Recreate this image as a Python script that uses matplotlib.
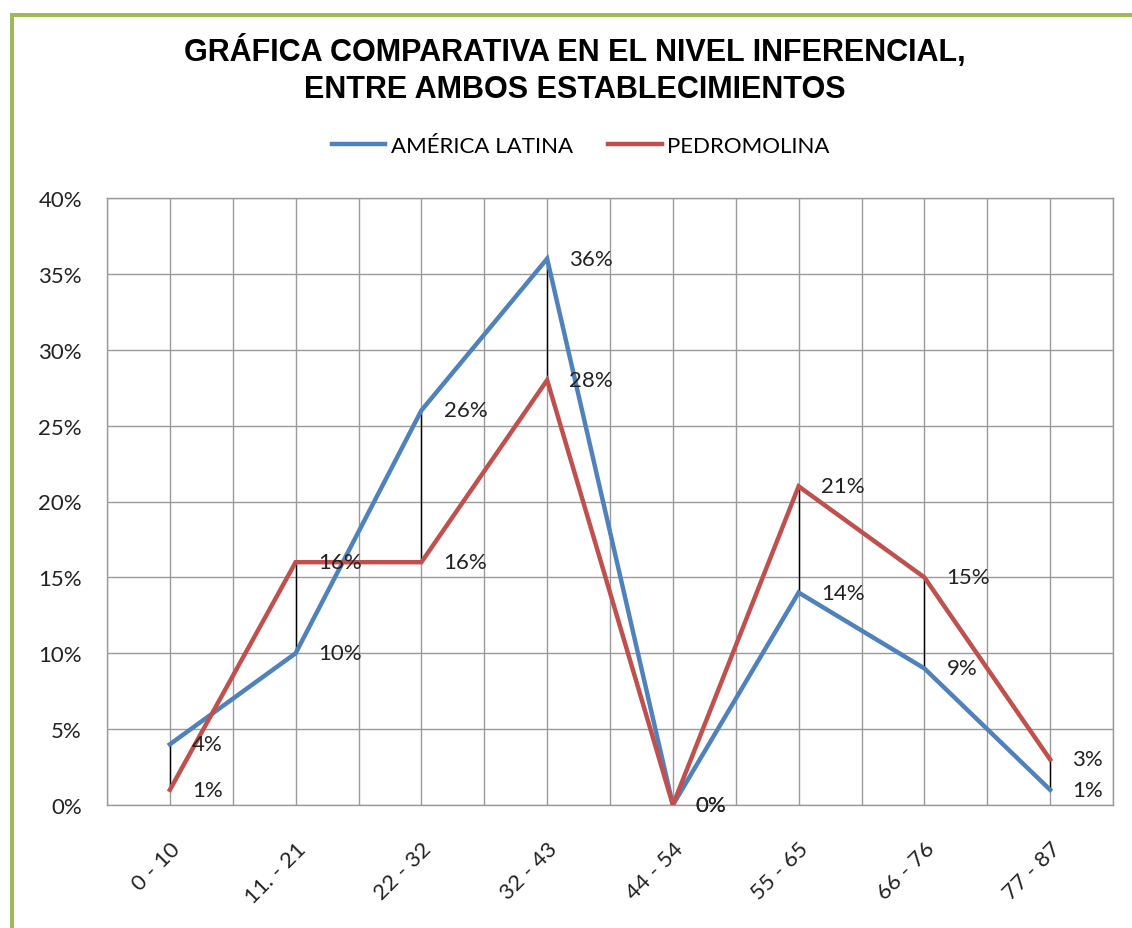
import numpy as np
import matplotlib.pyplot as plt
from matplotlib.patches import Rectangle
from matplotlib.ticker import FuncFormatter, MultipleLocator

plt.rcParams['font.family'] = ['Lato', 'DejaVu Sans']

categories = ['0 - 10', '11. - 21', '22 - 32', '32 - 43', '44 - 54', '55 - 65', '66 - 76', '77 - 87']
america_latina = [4, 10, 26, 36, 0, 14, 9, 1]
pedromolina = [1, 16, 16, 28, 0, 21, 15, 3]

blue = '#4F81BD'
red = '#C0504D'
grid_col = '#9a9a9a'

fig = plt.figure(figsize=(11.32, 9.29), dpi=100)

# green frame (top and left)
fig.patches.append(Rectangle((10/1132, 0), 4/1132, 1 - 14/929, transform=fig.transFigure,
                             facecolor='#9BBB59', edgecolor='none'))
fig.patches.append(Rectangle((10/1132, 1 - 18/929), 1, 4/929, transform=fig.transFigure,
                             facecolor='#9BBB59', edgecolor='none'))

ax = fig.add_axes([107/1132, 1 - 806/929, (1113 - 107)/1132, (806 - 199)/929])

x = np.arange(len(categories))

# high-low lines between series
for xi, a, p in zip(x, america_latina, pedromolina):
    ax.plot([xi, xi], [min(a, p), max(a, p)], color='black', lw=1, zorder=2)

ax.plot(x, america_latina, color=blue, lw=3.2, label='AMÉRICA LATINA', zorder=3,
        solid_joinstyle='miter')
ax.plot(x, pedromolina, color=red, lw=3.2, label='PEDROMOLINA', zorder=3,
        solid_joinstyle='miter')

for xi, a, p in zip(x, america_latina, pedromolina):
    for v in (a, p):
        ax.annotate('%d%%' % v, (xi, v), xytext=(16, 0), textcoords='offset points',
                    ha='left', va='center', fontsize=16, color='#222222', zorder=4)

ax.set_xlim(-0.5, len(categories) - 0.5)
ax.set_ylim(0, 40)
ax.yaxis.set_major_locator(MultipleLocator(5))
ax.yaxis.set_major_formatter(FuncFormatter(lambda v, pos: '%d%%' % v))
ax.set_xticks(x)
ax.set_xticklabels(categories, rotation=45, ha='right', va='top', rotation_mode='anchor',
                   fontsize=16, color='#222222')
ax.set_xticks(np.arange(-0.5, len(categories), 0.5), minor=True)
ax.tick_params(axis='both', length=0, which='both')
ax.tick_params(axis='y', pad=18, labelsize=16, labelcolor='#222222')
ax.tick_params(axis='x', pad=24)
ax.grid(True, which='both', axis='x', color=grid_col, lw=1)
ax.grid(True, which='major', axis='y', color=grid_col, lw=1)
for s in ax.spines.values():
    s.set_color(grid_col)
    s.set_linewidth(1)

fig.text(0.508, 1 - 70/929, 'GRÁFICA COMPARATIVA EN EL NIVEL INFERENCIAL,\nENTRE AMBOS ESTABLECIMIENTOS',
         ha='center', va='center', fontsize=22, fontweight='bold',
         family=['Liberation Sans', 'DejaVu Sans'], linespacing=1.3)

fig.legend(loc='center', bbox_to_anchor=(0.513, 1 - 147/929), ncol=2, frameon=False,
           fontsize=16, handlelength=2.4, columnspacing=1.6, handletextpad=0.25)

fig.savefig('out.png', dpi=100)
